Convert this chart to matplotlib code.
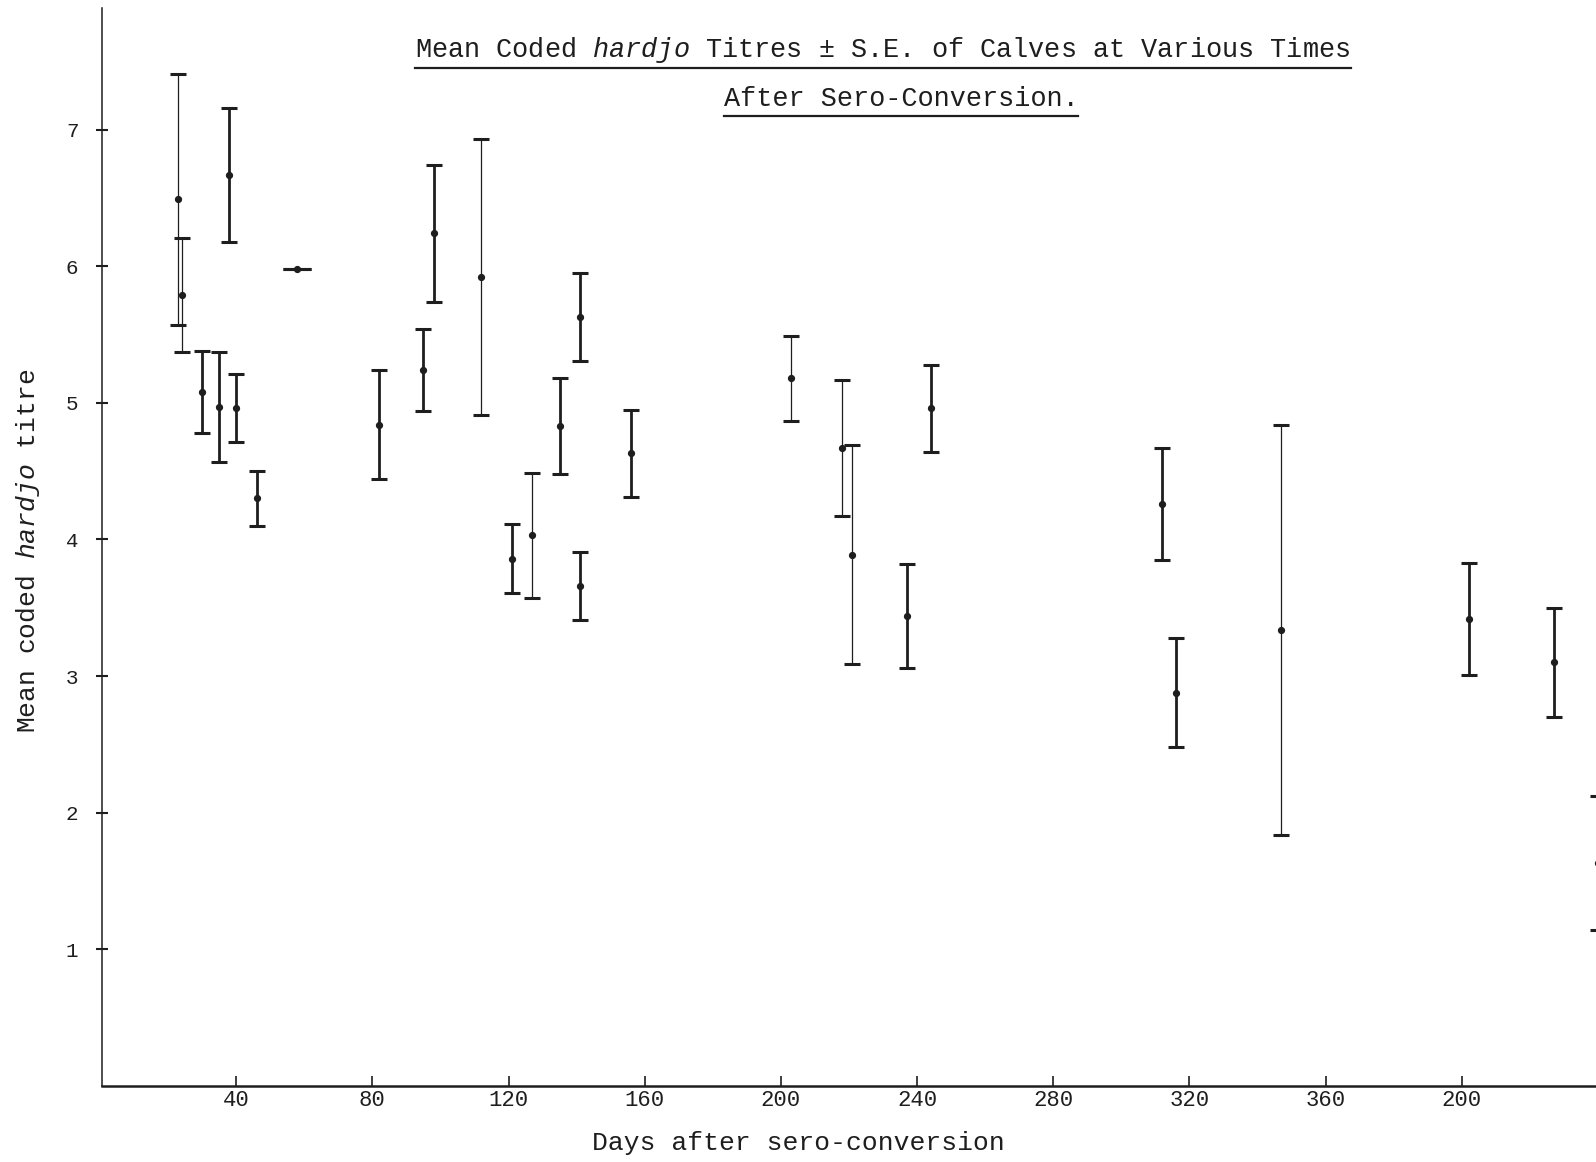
import matplotlib
matplotlib.use('Agg')
import matplotlib.pyplot as plt
from matplotlib.lines import Line2D

# dados (dias após a soro-conversão, título médio, erro padrão)
dias = [23, 24, 30, 35, 38, 40, 46, 58, 82, 95, 98, 112, 121, 127, 135, 141, 141, 156,
        203, 218, 221, 237, 244, 312, 316, 347, 402, 427, 440]
medias = [6.49, 5.79, 5.08, 4.97, 6.67, 4.96, 4.30, 5.98, 4.84, 5.24, 6.24, 5.92, 3.86, 4.03,
          4.83, 5.63, 3.66, 4.63, 5.18, 4.67, 3.89, 3.44, 4.96, 4.26, 2.88, 3.34, 3.42, 3.10, 1.63]
erros = [0.92, 0.42, 0.30, 0.40, 0.49, 0.25, 0.20, 0.0, 0.40, 0.30, 0.50, 1.01, 0.25, 0.46,
         0.35, 0.32, 0.25, 0.32, 0.31, 0.50, 0.80, 0.38, 0.32, 0.41, 0.40, 1.50, 0.41, 0.40, 0.49]

x_ticks = [40, 80, 120, 160, 200, 240, 280, 320, 360, 400]
x_tick_labels = ['40', '80', '120', '160', '200', '240', '280', '320', '360', '200']
y_ticks = [1, 2, 3, 4, 5, 6, 7]

# estilo das barras (finas ou grossas, como na máquina de escrever)
finas = [0, 1, 11, 13, 18, 19, 20, 25]
tinta = '#1e1e1e'
fonte = 'Liberation Mono'

plt.rcParams['font.family'] = [fonte, 'DejaVu Sans Mono']
plt.rcParams['mathtext.fontset'] = 'custom'
plt.rcParams['mathtext.rm'] = fonte
plt.rcParams['mathtext.it'] = fonte + ':italic'

fig = plt.figure(figsize=(15.96, 11.62), dpi=100)
fig.patch.set_facecolor('white')
ax = fig.add_axes([102 / 1596, 76 / 1162, 1494 / 1596, 1078 / 1162])
ax.set_facecolor('white')

for i in range(len(dias)):
    lw = 0.9 if i in finas else 2.0
    cs = 10 if erros[i] == 0 else 5.5
    ax.errorbar(dias[i], medias[i], yerr=erros[i], fmt='o', color=tinta, ms=4.2,
                lw=lw, elinewidth=lw, capsize=cs, capthick=2.2)

ax.set_xlim(0.59, 439.4)
ax.set_ylim(0, 7.89)

for s in ['top', 'right']:
    ax.spines[s].set_visible(False)
ax.spines['bottom'].set_linewidth(1.8)
ax.spines['left'].set_linewidth(1.1)
ax.spines['bottom'].set_color(tinta)
ax.spines['left'].set_color(tinta)

ax.set_xticks(x_ticks)
ax.set_xticklabels(x_tick_labels)
ax.set_yticks(y_ticks)
ax.set_yticklabels([str(v) for v in y_ticks])
ax.tick_params(axis='x', direction='in', length=7, width=1.2, pad=3,
               labelsize=16, colors=tinta)
ax.tick_params(axis='y', direction='inout', length=8, width=1.5, pad=13,
               labelsize=15, colors=tinta)

ax.set_xlabel('Days after sero-conversion', fontsize=19, color=tinta)
ax.xaxis.set_label_coords(0.466, -0.053)
ax.xaxis.label.set_va('center')
ax.set_ylabel(r'Mean coded $\mathit{hardjo}$ titre', fontsize=19, color=tinta)
ax.yaxis.set_label_coords(-0.0495, 0.496)
ax.yaxis.label.set_va('center')

# título em duas linhas, sublinhado
t1 = fig.text(883 / 1596, 1 - 50 / 1162,
              r'Mean Coded $\mathit{hardjo}$ Titres ± S.E. of Calves at Various Times',
              ha='center', va='center', fontsize=19.4, color=tinta)
t2 = fig.text(901 / 1596, 1 - 99 / 1162, 'After Sero-Conversion.',
              ha='center', va='center', fontsize=19.4, color=tinta)

fig.canvas.draw()
r = fig.canvas.get_renderer()
for t, yy in [(t1, 68), (t2, 116)]:
    bb = t.get_window_extent(r)
    fig.add_artist(Line2D([bb.x0 / 1596, bb.x1 / 1596], [1 - yy / 1162, 1 - yy / 1162],
                          transform=fig.transFigure, color=tinta, lw=1.6))

fig.savefig('out.png', dpi=100, facecolor='white')
